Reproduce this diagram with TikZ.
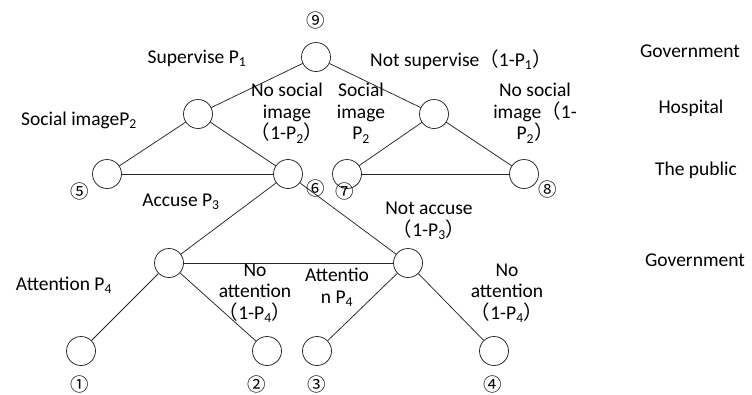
\documentclass[tikz,border=0pt]{standalone}
\usepackage{fontspec}
\setmainfont{Carlito}
\newfontfamily\cjk{Noto Sans CJK SC}
\newcommand{\lpar}{{\cjk （}}
\newcommand{\rpar}{{\cjk ）}}
\begin{document}
\begin{tikzpicture}[x=1pt,y=-1pt,
  dec/.style={circle,draw=black!85,line width=0.75pt,minimum size=29pt,inner sep=0pt},
  lbl/.style={font=\fontsize{19.5}{21.7}\selectfont,align=center,inner sep=0pt,text=black},
  num/.style={font=\cjk\fontsize{18.5}{20}\selectfont,inner sep=0pt,text=black},
  edge/.style={draw=black!85,line width=0.75pt}]
\useasboundingbox (0,0) rectangle (752,394);
% decision nodes
\node[dec] (g0) at (316,57) {};
\node[dec] (hL) at (198,114) {};
\node[dec] (hR) at (434,114) {};
\node[dec] (p5) at (107,174) {};
\node[dec] (p6) at (288,174) {};
\node[dec] (p7) at (347,174) {};
\node[dec] (p8) at (524,174) {};
\node[dec] (gL) at (169,263) {};
\node[dec] (gR) at (408,263) {};
\node[dec] (l1) at (81,351) {};
\node[dec] (l2) at (267,351) {};
\node[dec] (l3) at (317,351) {};
\node[dec] (l4) at (494,351) {};
% connectors
\draw[edge] (g0) -- (hL);
\draw[edge] (g0) -- (hR);
\draw[edge] (hL) -- (p5);
\draw[edge] (hL) -- (p6);
\draw[edge] (hR) -- (p7);
\draw[edge] (hR) -- (p8);
\draw[edge] (p5) -- (p6);
\draw[edge] (p7) -- (p8);
\draw[edge] (p6) -- (gL);
\draw[edge] (p6) -- (gR);
\draw[edge] (gL) -- (gR);
\draw[edge] (gL) -- (l1);
\draw[edge] (gL) -- (l2);
\draw[edge] (gR) -- (l3);
\draw[edge] (gR) -- (l4);
% outcome numbers
\node[num] (n9) at (316,20) {⑨};
\node[num] (n5) at (80,191) {⑤};
\node[num] (n6) at (316,188) {⑥};
\node[num] (n7) at (345,191) {⑦};
\node[num] (n8) at (548,189) {⑧};
\node[num] (n1) at (80,384) {①};
\node[num] (n2) at (257,384) {②};
\node[num] (n3) at (317,384) {③};
\node[num] (n4) at (493,384) {④};
% branch labels
\node[lbl] (t1) at (197,58) {Supervise P\textsubscript{1}};
\node[lbl,anchor=west] (t2) at (370,60) {Not supervise\lpar 1-P\textsubscript{1}\rpar};
\node[lbl] (t3) at (79,120) {Social imageP\textsubscript{2}};
\node[lbl] (t4) at (287,113) {No social\\image\\\lpar 1-P\textsubscript{2}\rpar};
\node[lbl] (t5) at (361,113) {Social\\image\\P\textsubscript{2}};
\node[lbl] (t6) at (535,113) {No social\\image\lpar 1-\\P\textsubscript{2}\rpar};
\node[lbl] (t7) at (181,202) {Accuse P\textsubscript{3}};
\node[lbl] (t8) at (429,221) {Not accuse\\\lpar 1-P\textsubscript{3}\rpar};
\node[lbl] (t9) at (64,285) {Attention P\textsubscript{4}};
\node[lbl] (t10) at (255,293) {No\\attention\\\lpar 1-P\textsubscript{4}\rpar};
\node[lbl] (t11) at (337,287) {Attentio\\n P\textsubscript{4}};
\node[lbl] (t12) at (507,293) {No\\attention\\\lpar 1-P\textsubscript{4}\rpar};
% player labels
\node[lbl] (r1) at (690,51) {Government};
\node[lbl] (r2) at (691,108) {Hospital};
\node[lbl] (r3) at (696,170) {The public};
\node[lbl] (r4) at (695,260) {Government};
\end{tikzpicture}
\end{document}
